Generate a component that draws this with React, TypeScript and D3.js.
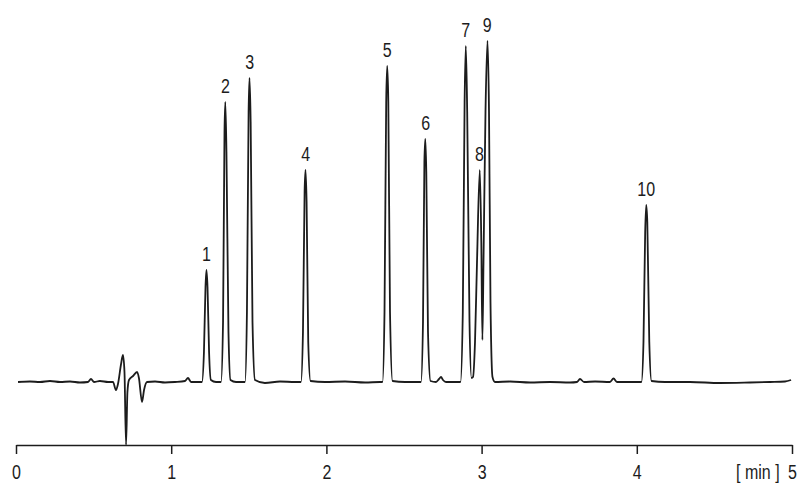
import React, { useEffect, useRef } from 'react';
import * as d3 from 'd3';

// chromatogram trace: retention time [min] and detector signal
const traceTimes = [
  0.013, 0.09, 0.155, 0.219, 0.284, 0.348, 0.412, 0.464, 0.483, 0.503, 0.541, 0.593,
  0.625, 0.644, 0.657, 0.677, 0.689, 0.699, 0.709, 0.718, 0.728, 0.754, 0.78, 0.792,
  0.812, 0.825, 0.844, 0.896, 0.96, 1.024, 1.089, 1.108, 1.128, 1.186,
  1.198, 1.211, 1.221, 1.227, 1.234, 1.244, 1.256, 1.289,
  1.321, 1.334, 1.3434, 1.3486, 1.356, 1.369, 1.382, 1.418,
  1.4755, 1.488, 1.4987, 1.5045, 1.512, 1.5238, 1.5399, 1.604, 1.701, 1.798,
  1.836, 1.849, 1.8595, 1.8653, 1.8724, 1.883, 1.8976, 1.991, 2.12, 2.249, 2.345,
  2.3615, 2.3744, 2.3853, 2.3918, 2.3989, 2.4098, 2.426, 2.5064, 2.5966,
  2.6095, 2.6224, 2.6314, 2.6372, 2.6437, 2.6546, 2.6707, 2.7062, 2.7255, 2.7384, 2.7513, 2.7706, 2.835,
  2.864, 2.8789, 2.8905, 2.8982, 2.9072, 2.9221, 2.9349, 2.9446,
  2.9575, 2.9704, 2.9884, 2.9981, 3.0052, 3.0122,
  3.0251, 3.038, 3.0477, 3.0573, 3.0702, 3.0863, 3.183, 3.312, 3.441, 3.57,
  3.615, 3.634, 3.66, 3.731, 3.827, 3.85, 3.872, 3.956, 4.021,
  4.03, 4.043, 4.054, 4.0606, 4.0677, 4.0805, 4.0947, 4.1817, 4.343, 4.536, 4.729, 4.858, 4.955, 4.994,
];
const traceSignal = [
  0, 0.5, 0, 1, 0, 0.5, -0.5, 0, 3, 0, 1, 0,
  0, -8, -2, 18, 27, 10, -63, -10, 2, 6, 10, 4,
  -20, -8, 0, 0.5, -0.5, 0, 1, 4, 0, 0,
  0, 30, 95, 112, 95, 30, 2, 0,
  0, 60, 250, 280, 230, 50, 2, 0,
  0, 70, 270, 304, 260, 60, 2, -1, 0.5, 0,
  0, 50, 190, 212, 180, 40, 1, 0, 0.5, -0.5, 0,
  0, 70, 280, 316, 280, 70, 1, 0, 0,
  0, 60, 220, 243, 210, 50, 1, 0, 3, 5, 2, 0, 0,
  0, 70, 280, 336, 270, 60, 4, 5,
  40, 120, 212, 140, 42, 120,
  270, 341, 270, 80, 5, 0, 0.5, -0.5, 0, -0.5,
  0, 3, 0, 0.5, 0, 3.5, 0, 0, 0,
  0, 40, 150, 177, 160, 40, 1, 0, 0, -1, -0.5, 0, 0.5, 2,
];

// numbered peaks: label, apex time, apex signal
const peakLabels = ['1', '2', '3', '4', '5', '6', '7', '8', '9', '10'];
const peakTimes = [1.227, 1.349, 1.505, 1.866, 2.392, 2.64, 2.898, 2.986, 3.036, 4.061];
const peakHeights = [112, 280, 304, 212, 316, 243, 336, 212, 341, 177];

const xTicks = [0, 1, 2, 3, 4, 5];

const FONT = '"Liberation Sans", Arial, sans-serif';
const INK = '#1c1c1c';
const SQUEEZE = 0.8;

const App: React.FC = () => {
  const ref = useRef<SVGSVGElement>(null);

  useEffect(() => {
    if (!ref.current) return;
    const svg = d3.select(ref.current);
    svg.selectAll('*').remove();

    const x = d3.scaleLinear().domain([0, 5]).range([16, 792]);
    const y = d3.scaleLinear().domain([-63, 341]).range([445, 41]);

    const points = traceTimes.map((t, i) => [t, traceSignal[i]] as [number, number]);

    const line = d3
      .line<[number, number]>()
      .x((d) => x(d[0]))
      .y((d) => y(d[1]))
      .curve(d3.curveMonotoneX);

    svg
      .append('path')
      .datum(points)
      .attr('d', line)
      .attr('fill', 'none')
      .attr('stroke', INK)
      .attr('stroke-width', 1.8)
      .attr('stroke-linejoin', 'round');

    // time axis
    const axis = svg
      .append('g')
      .attr('transform', `translate(0,${y(-63)})`)
      .call(
        d3
          .axisBottom(x)
          .tickValues(xTicks)
          .tickFormat(d3.format('d'))
          .tickSizeInner(9)
          .tickSizeOuter(0)
          .tickPadding(11)
      );
    axis.select('.domain').attr('stroke', INK).attr('stroke-width', 1.7);
    axis.selectAll('.tick line').attr('stroke', INK).attr('stroke-width', 1.5);
    axis
      .selectAll('.tick text')
      .attr('font-family', FONT)
      .attr('font-size', 20)
      .attr('fill', INK)
      .attr('transform', `scale(${SQUEEZE},1)`);

    svg
      .append('text')
      .attr('transform', `translate(${x(4.92)},479) scale(${SQUEEZE},1)`)
      .attr('text-anchor', 'end')
      .attr('font-family', FONT)
      .attr('font-size', 20)
      .attr('fill', INK)
      .text('[ min ]');

    // peak numbers
    svg
      .append('g')
      .selectAll('text')
      .data(peakLabels)
      .enter()
      .append('text')
      .attr(
        'transform',
        (d, i) => `translate(${x(peakTimes[i])},${y(peakHeights[i]) - 9}) scale(${SQUEEZE},1)`
      )
      .attr('text-anchor', 'middle')
      .attr('font-family', FONT)
      .attr('font-size', 20)
      .attr('fill', INK)
      .text((d) => d);
  }, []);

  return (
    <svg
      ref={ref}
      width={811}
      height={494}
      style={{ position: 'absolute', left: 0, top: 0, background: '#fff' }}
    ></svg>
  );
};

export default App;
